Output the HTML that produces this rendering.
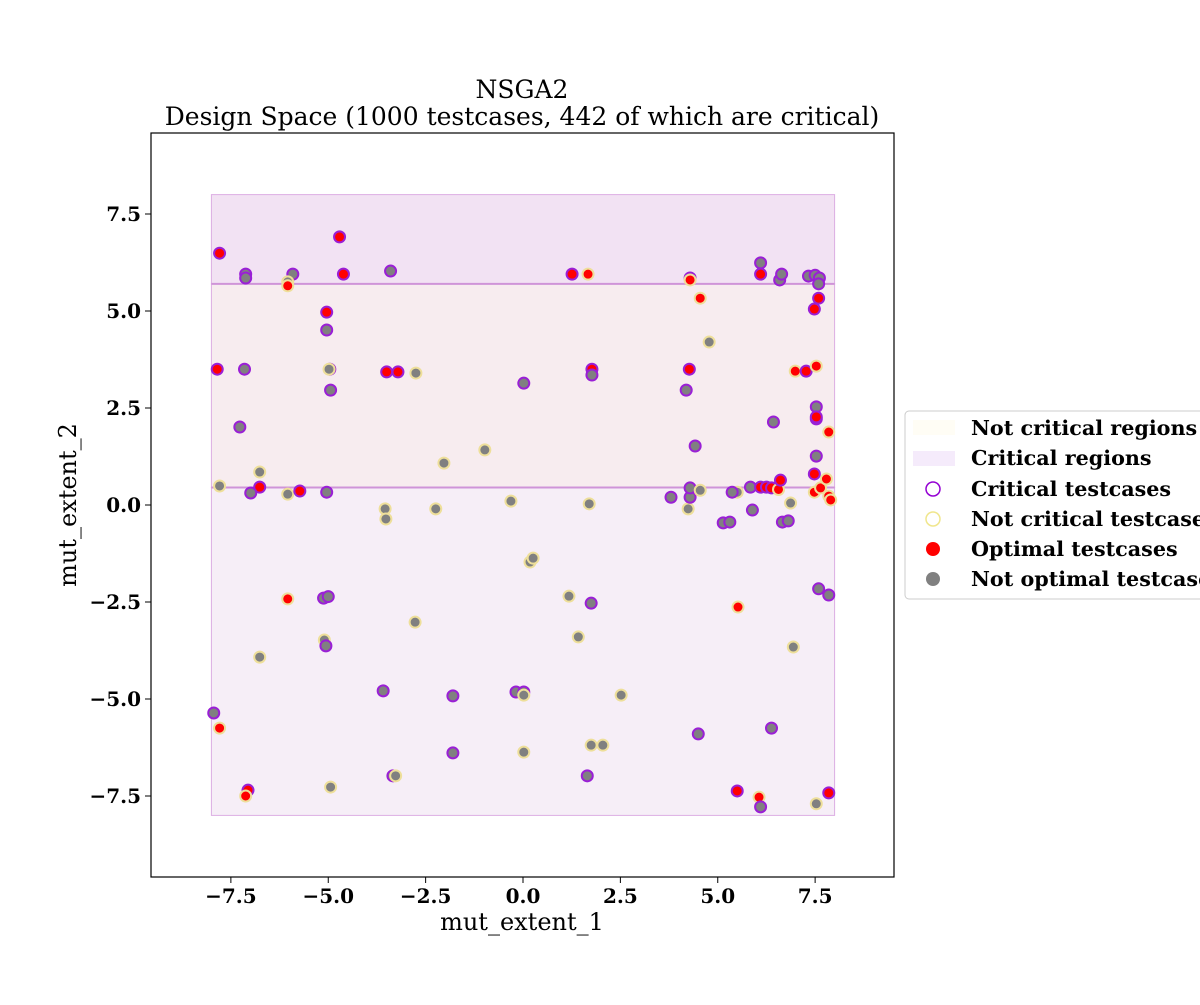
<!DOCTYPE html>
<html><head><meta charset="utf-8"><style>
body{margin:0;background:#fff;}
svg text{font-family:"DejaVu Serif","Liberation Serif",serif;}
</style></head><body>
<svg id="chart" width="1200" height="1000" xmlns="http://www.w3.org/2000/svg">
<text x="522" y="98" font-size="25" text-anchor="middle">NSGA2</text>
<text x="522" y="125" font-size="25" text-anchor="middle">Design Space (1000 testcases, 442 of which are critical)</text>
<g id="plot"></g>
<rect x="151" y="133" width="743" height="744" fill="none" stroke="#000" stroke-width="1.2"/>
<g id="ticks"></g>
<text x="522" y="930" font-size="24" text-anchor="middle">mut_extent_1</text>
<text transform="translate(76,505) rotate(-90)" font-size="24" text-anchor="middle">mut_extent_2</text>
<g>
<rect x="905" y="411" width="310" height="188" rx="4" fill="#fff" stroke="#ccc" stroke-width="1"/>
<rect x="913" y="420" width="42" height="15" fill="#fffdf5"/>
<text x="971" y="435" font-size="20.7" font-weight="bold">Not critical regions</text>
<rect x="913" y="451" width="42" height="15" fill="#f5ebfb"/>
<text x="971" y="465" font-size="20.7" font-weight="bold">Critical regions</text>
<circle cx="933" cy="489" r="7" fill="none" stroke="#9400d3" stroke-width="1.5"/>
<text x="971" y="496" font-size="20.7" font-weight="bold">Critical testcases</text>
<circle cx="933" cy="519" r="7" fill="none" stroke="#f0e68c" stroke-width="1.5"/>
<text x="971" y="526" font-size="20.7" font-weight="bold">Not critical testcases</text>
<circle cx="933" cy="549" r="7" fill="#ff0000"/>
<text x="971" y="556" font-size="20.7" font-weight="bold">Optimal testcases</text>
<circle cx="933" cy="579" r="7" fill="#808080"/>
<text x="971" y="586" font-size="20.7" font-weight="bold">Not optimal testcases</text>
</g>
</svg>
<script>
const NS="http://www.w3.org/2000/svg";
const xTicks=[-7.5,-5,-2.5,0,2.5,5,7.5];
const yTicks=[-7.5,-5,-2.5,0,2.5,5,7.5];
const regionBounds=[-8,8];
const regionSplits=[0.45,5.7];
// points: x, y, critical (1/0), optimal (1/0)
const px=[-7.79,-4.71,-7.12,-7.12,-5.91,-6.04,-6.04,-4.61,-3.40,1.26,1.67,4.29,4.29,6.10,6.10,6.59,6.64,7.33,7.50,7.61,7.59,7.59,7.48,4.55,4.78,-5.04,-5.04,-7.85,-7.15,-4.96,-4.98,-3.50,-3.21,-2.75,-4.94,0.02,1.77,1.77,4.27,4.19,6.99,7.27,7.53,7.53,7.53,7.53,6.43,7.85,7.53,4.42,-0.98,-2.03,-7.27,-6.76,-6.76,-7.79,-6.99,-6.04,-5.73,-5.04,-3.54,-3.52,-2.24,-0.31,1.70,3.80,4.24,4.29,4.29,4.55,5.14,5.31,5.50,5.37,5.84,5.89,6.10,6.25,6.38,6.56,6.66,6.81,6.61,6.87,7.48,7.48,7.64,7.79,7.85,7.90,7.59,7.85,5.52,6.94,-6.04,-5.12,-5.00,-5.10,-5.06,-6.76,-2.77,0.18,0.26,1.18,1.75,1.42,-7.94,-7.79,-3.59,-1.80,-0.18,0.02,0.02,2.52,4.50,6.38,-1.80,0.02,1.75,2.05,1.65,-3.34,-3.27,-4.94,-7.06,-7.12,5.50,6.06,6.10,7.85,7.53];
const py=[6.49,6.91,5.95,5.85,5.95,5.75,5.65,5.95,6.03,5.95,5.95,5.85,5.8,6.24,5.95,5.8,5.95,5.9,5.92,5.85,5.7,5.33,5.05,5.33,4.2,4.97,4.51,3.5,3.5,3.5,3.5,3.43,3.43,3.4,2.96,3.14,3.5,3.35,3.5,2.96,3.45,3.45,3.58,2.53,2.22,2.27,2.14,1.88,1.26,1.52,1.42,1.08,2.01,0.85,0.46,0.49,0.31,0.28,0.36,0.33,-0.1,-0.36,-0.1,0.1,0.03,0.2,-0.1,0.2,0.44,0.38,-0.46,-0.44,0.33,0.33,0.46,-0.13,0.46,0.46,0.44,0.4,-0.44,-0.41,0.64,0.05,0.8,0.33,0.44,0.67,0.23,0.13,-2.16,-2.32,-2.63,-3.66,-2.42,-2.4,-2.36,-3.48,-3.63,-3.92,-3.02,-1.47,-1.37,-2.35,-2.53,-3.4,-5.36,-5.75,-4.79,-4.92,-4.82,-4.82,-4.9,-4.9,-5.9,-5.75,-6.39,-6.37,-6.19,-6.19,-6.98,-6.98,-6.98,-7.27,-7.35,-7.5,-7.37,-7.53,-7.78,-7.42,-7.7];
const pCrit=[1,1,1,1,1,0,0,1,1,1,0,1,0,1,1,1,1,1,1,1,1,1,1,0,0,1,1,1,1,1,0,1,1,0,1,1,1,1,1,1,0,1,0,1,1,1,1,0,1,1,0,0,1,0,1,0,1,0,1,1,0,0,0,0,0,1,0,1,1,0,1,1,0,1,1,1,1,1,1,0,1,1,1,0,1,0,0,0,0,0,1,1,0,0,0,1,1,0,1,0,0,0,0,0,1,0,1,0,1,1,1,1,0,0,1,1,1,0,0,0,1,1,0,0,1,0,1,0,1,1,0];
const pOpt=[1,1,0,0,0,0,1,1,0,1,1,0,1,0,1,0,0,0,0,0,0,1,1,1,0,1,0,1,0,0,0,1,1,0,0,0,1,0,1,0,1,1,1,0,0,1,0,1,0,0,0,0,0,0,1,0,0,0,1,0,0,0,0,0,0,0,0,0,0,0,0,0,0,0,0,0,1,1,1,1,0,0,1,0,1,1,1,1,1,1,0,0,1,0,1,0,0,0,0,0,0,0,0,0,0,0,0,1,0,0,0,0,0,0,0,0,0,0,0,0,0,0,0,0,1,1,1,1,0,1,0];
const X=v=>523+v*38.95, Y=v=>505-v*38.8;
const plot=document.getElementById('plot');
function mk(tag,attrs,parent){const e=document.createElementNS(NS,tag);for(const k in attrs)e.setAttribute(k,attrs[k]);parent.appendChild(e);return e;}
let r=mk('rect',{x:X(regionBounds[0]),y:Y(regionBounds[1]),width:X(regionBounds[1])-X(regionBounds[0]),height:Y(regionSplits[1])-Y(regionBounds[1]),fill:'#f2e2f3',stroke:'#dcaee3'},plot);


r=mk('rect',{x:X(regionBounds[0]),y:Y(regionSplits[1]),width:X(regionBounds[1])-X(regionBounds[0]),height:Y(regionSplits[0])-Y(regionSplits[1]),fill:'#f7ecef',stroke:'#dcaee3'},plot);


r=mk('rect',{x:X(regionBounds[0]),y:Y(regionSplits[0]),width:X(regionBounds[1])-X(regionBounds[0]),height:Y(regionBounds[0])-Y(regionSplits[0]),fill:'#f6eef7',stroke:'#dcaee3'},plot);


for(const s of regionSplits){const l=mk('line',{x1:X(regionBounds[0]),x2:X(regionBounds[1]),y1:Y(s),y2:Y(s),stroke:'#cf94d8','stroke-width':2},plot);

}
for(let i=0;i<px.length;i++){
 const c=mk('circle',{cx:X(px[i]),cy:Y(py[i]),r:5.5,fill:pOpt[i]?'#ff0000':'#808080',stroke:pCrit[i]?'#9a1fd6':'#eedf9a','stroke-width':2},plot);
 
 
}
const tk=document.getElementById('ticks');
const fmt=v=>(v<0?'\u2212':'')+Math.abs(v).toFixed(1);
for(const v of xTicks){
 mk('line',{x1:X(v),x2:X(v),y1:877,y2:883,stroke:'#000'},tk);
 const t=mk('text',{x:X(v),y:903,'font-size':20,'font-weight':'bold','text-anchor':'middle'},tk);t.textContent=fmt(v);
 
 
}
for(const v of yTicks){
 mk('line',{x1:145,x2:151,y1:Y(v),y2:Y(v),stroke:'#000'},tk);
 const t=mk('text',{x:141,y:Y(v)+7,'font-size':20,'font-weight':'bold','text-anchor':'end'},tk);t.textContent=fmt(v);
 
 
}
</script>
</body></html>
